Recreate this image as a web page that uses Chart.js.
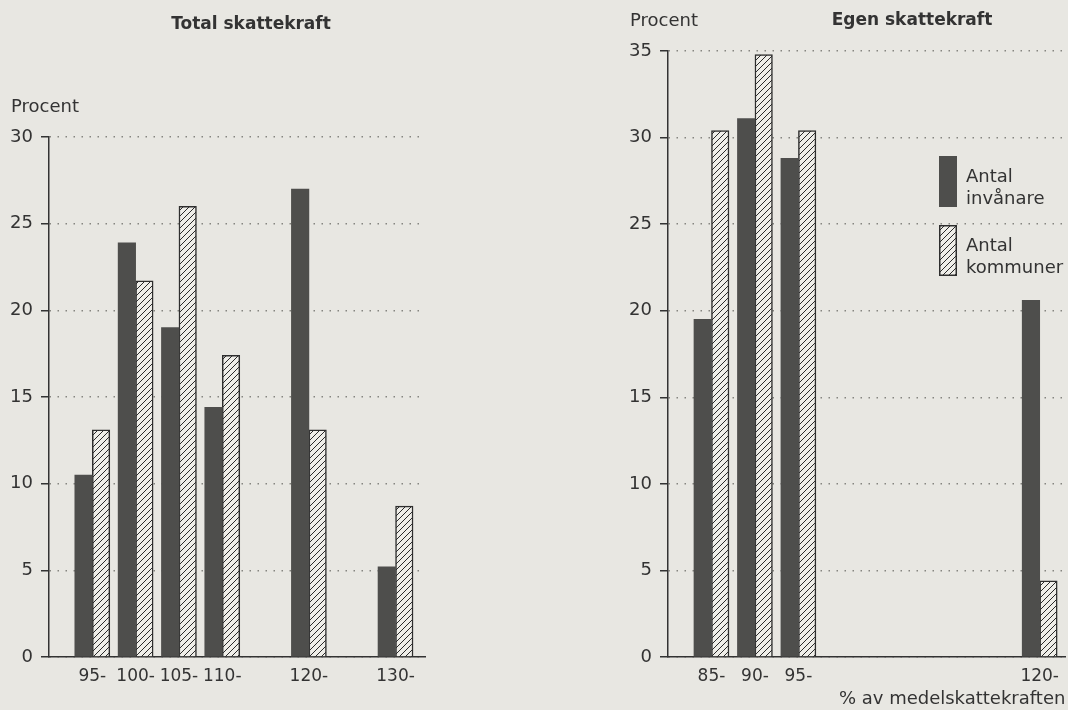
<!DOCTYPE html>
<html>
<head>
<meta charset="utf-8">
<title>Skattekraft</title>
<script src="https://cdn.jsdelivr.net/npm/chart.js@4.4.0/dist/chart.umd.min.js"></script>
<style>
  html, body { margin: 0; padding: 0; background: #e8e7e2; }
  body { width: 1068px; height: 710px; position: relative; overflow: hidden; }
  canvas { position: absolute; top: 0; }
  #totalChart { left: 0; }
  #egenChart { left: 540px; }
</style>
</head>
<body>
<canvas id="totalChart" width="520" height="710"></canvas>
<canvas id="egenChart" width="528" height="710"></canvas>
<script>
// Total skattekraft (left)
const totalCategories = [95, 100, 105, 110, 120, 130];
const totalTickLabels = ["95-", "100-", "105-", "110-", "120-", "130-"];
const totalInvanare   = [10.5, 23.9, 19.0, 14.4, 27.0, 5.2];
const totalKommuner   = [13.1, 21.7, 26.0, 17.4, 13.1, 8.7];

// Egen skattekraft (right)
const egenCategories = [85, 90, 95, 120];
const egenTickLabels = ["85-", "90-", "95-", "120-"];
const egenInvanare   = [19.5, 31.1, 28.8, 20.6];
const egenKommuner   = [30.4, 34.8, 30.4, 4.4];

const seriesNames = ["Antal invånare", "Antal kommuner"];

const INK = "#333333";
const DARK_BAR = "#4e4e4c";

Chart.defaults.font.family = "'DejaVu Sans', sans-serif";
Chart.defaults.color = INK;

// linear scale with a gap in the axis (the right chart skips 100-115)
class BrokenLinearScale extends Chart.LinearScale {
  getPixelForValue(value) {
    const brk = this.options.axisBreak;
    if (brk && value > brk.after) {
      value += brk.gap;
    }
    return super.getPixelForValue(value);
  }
}
BrokenLinearScale.id = "brokenLinear";
BrokenLinearScale.defaults = Chart.LinearScale.defaults;
Chart.register(BrokenLinearScale);

function makeHatch(canvas) {
  const tile = document.createElement("canvas");
  tile.width = 6;
  tile.height = 6;
  const g = tile.getContext("2d");
  g.fillStyle = "#efeee9";
  g.fillRect(0, 0, 6, 6);
  g.strokeStyle = "#2a2a2a";
  g.lineWidth = 1;
  g.beginPath();
  g.moveTo(0, 6); g.lineTo(6, 0);
  g.moveTo(-3, 3); g.lineTo(3, -3);
  g.moveTo(3, 9); g.lineTo(9, 3);
  g.stroke();
  return canvas.getContext("2d").createPattern(tile, "repeat");
}

// free texts: titles and "Procent"
const textPlugin = {
  id: "pageTexts",
  afterDraw(chart, args, opts) {
    const ctx = chart.ctx;
    ctx.save();
    ctx.fillStyle = INK;
    ctx.textBaseline = "alphabetic";
    (opts.items || []).forEach(function (item) {
      ctx.font = (item.bold ? "bold " : "") + item.size + "px 'DejaVu Sans', sans-serif";
      ctx.textAlign = item.align || "left";
      ctx.fillText(item.text, item.x, item.y);
    });
    ctx.restore();
  }
};

// legend with tall boxes and two-line labels
const boxLegendPlugin = {
  id: "boxLegend",
  afterDraw(chart, args, opts) {
    if (!opts.display) return;
    const ctx = chart.ctx;
    ctx.save();
    chart.data.datasets.forEach(function (ds, i) {
      const top = opts.tops[i];
      ctx.fillStyle = ds.backgroundColor;
      ctx.fillRect(opts.x, top, opts.boxWidth, opts.boxHeight);
      if (ds.borderWidth) {
        ctx.lineWidth = ds.borderWidth;
        ctx.strokeStyle = ds.borderColor;
        ctx.strokeRect(opts.x + 0.75, top + 0.75, opts.boxWidth - 1.5, opts.boxHeight - 1.5);
      }
      ctx.fillStyle = INK;
      ctx.font = "18px 'DejaVu Sans', sans-serif";
      ctx.textAlign = "left";
      ctx.textBaseline = "alphabetic";
      ds.label.split(" ").forEach(function (line, k) {
        ctx.fillText(line, opts.textX, top + opts.baselines[k]);
      });
    });
    ctx.restore();
  }
};

function buildChart(canvasId, cfg) {
  const canvas = document.getElementById(canvasId);
  const hatch = makeHatch(canvas);

  const points = function (values) {
    return cfg.categories.map(function (c, i) { return { x: c, y: values[i] }; });
  };

  return new Chart(canvas, {
    type: "bar",
    data: {
      datasets: [
        {
          label: seriesNames[0],
          data: points(cfg.invanare),
          backgroundColor: DARK_BAR,
          borderWidth: 0,
          barThickness: 17.5
        },
        {
          label: seriesNames[1],
          data: points(cfg.kommuner),
          backgroundColor: hatch,
          borderColor: "#2e2e2e",
          borderWidth: 1.5,
          barThickness: 17.5
        }
      ]
    },
    options: {
      responsive: false,
      animation: false,
      events: [],
      layout: { padding: cfg.padding },
      scales: {
        x: {
          type: cfg.xType,
          axisBreak: cfg.axisBreak,
          min: cfg.xMin,
          max: cfg.xMax,
          bounds: "data",
          offset: false,
          afterBuildTicks: function (axis) {
            axis.ticks = cfg.categories.map(function (v) { return { value: v }; });
          },
          afterFit: function (axis) { axis.height = 53; },
          grid: { display: false, drawTicks: false, offset: false },
          border: { display: true, color: INK, width: 1.5 },
          ticks: {
            autoSkip: false,
            maxRotation: 0,
            padding: 9,
            font: { size: 17 },
            callback: function (value) {
              return cfg.tickLabels[cfg.categories.indexOf(value)];
            }
          },
          title: {
            display: !!cfg.xTitle,
            text: cfg.xTitle || "",
            align: "end",
            padding: 0,
            font: { size: 18 }
          }
        },
        y: {
          min: 0,
          max: cfg.yMax,
          afterFit: function (axis) { axis.width = cfg.yWidth; },
          ticks: { stepSize: 5, padding: 8, font: { size: 18 } },
          grid: {
            color: "#858580",
            lineWidth: 1.5,
            tickColor: INK,
            tickWidth: 1.5,
            tickLength: 8,
            tickBorderDash: []
          },
          border: { display: true, color: INK, width: 1.5, dash: [1.5, 6.5] }
        }
      },
      plugins: {
        legend: { display: false },
        tooltip: { enabled: false },
        pageTexts: { items: cfg.texts },
        boxLegend: cfg.legend || { display: false }
      }
    },
    plugins: [textPlugin, boxLegendPlugin]
  });
}

buildChart("totalChart", {
  categories: totalCategories,
  tickLabels: totalTickLabels,
  invanare: totalInvanare,
  kommuner: totalKommuner,
  xType: "linear",
  xMin: 90,
  xMax: 133.4,
  yMax: 30,
  yWidth: 49,
  padding: { top: 137, right: 95, bottom: 0, left: 0 },
  texts: [
    { text: "Total skattekraft", x: 251, y: 29, size: 17, bold: true, align: "center" },
    { text: "Procent", x: 11, y: 112, size: 18 }
  ]
});

buildChart("egenChart", {
  categories: egenCategories,
  tickLabels: egenTickLabels,
  invanare: egenInvanare,
  kommuner: egenKommuner,
  xType: "brokenLinear",
  axisBreak: { after: 105, gap: 2.75 },
  xMin: 80,
  xMax: 125.7,
  yMax: 35,
  yWidth: 128,
  padding: { top: 51, right: 0, bottom: 0, left: 0 },
  xTitle: "% av medelskattekraften",
  texts: [
    { text: "Egen skattekraft", x: 372, y: 25, size: 17, bold: true, align: "center" },
    { text: "Procent", x: 90, y: 26, size: 18 }
  ],
  legend: {
    display: true,
    x: 399,
    tops: [156, 225],
    boxWidth: 18,
    boxHeight: 51,
    textX: 426,
    baselines: [26, 48]
  }
});
</script>
</body>
</html>
